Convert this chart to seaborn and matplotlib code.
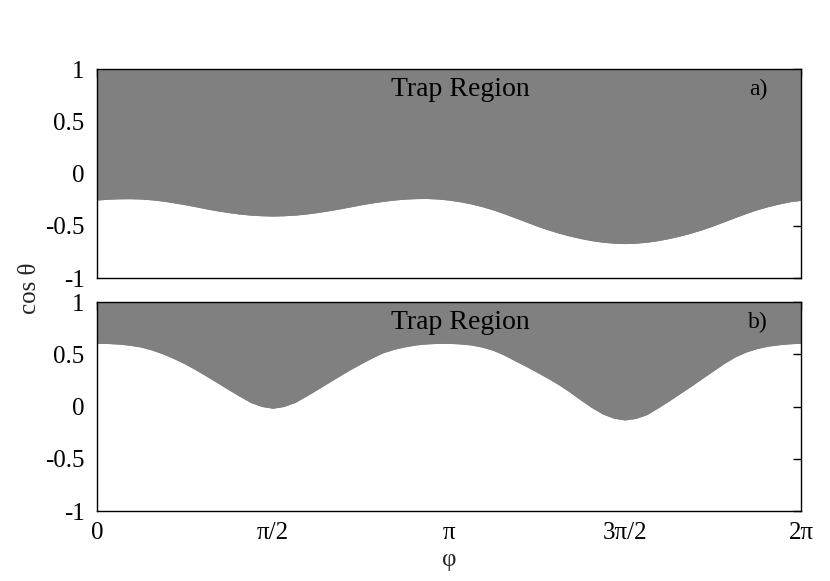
import numpy as np
import pandas as pd
import matplotlib
matplotlib.use("Agg")
import matplotlib.pyplot as plt
import seaborn as sns

# phi positions in units of pi/32 (0 .. 64)
phi_steps = list(range(65))

# panel a) lower boundary of the trap region (cos theta)
boundary_a = [-0.252, -0.244, -0.240, -0.239, -0.242, -0.250, -0.262, -0.278, -0.296,
              -0.316, -0.337, -0.356, -0.372, -0.386, -0.396, -0.402, -0.405, -0.402,
              -0.396, -0.386, -0.372, -0.356, -0.338, -0.318, -0.298, -0.280, -0.265,
              -0.252, -0.243, -0.238, -0.237, -0.242, -0.252, -0.268, -0.288, -0.314,
              -0.345, -0.381, -0.420, -0.460, -0.500, -0.536, -0.568, -0.596, -0.620,
              -0.640, -0.655, -0.664, -0.668, -0.664, -0.655, -0.640, -0.620, -0.596,
              -0.568, -0.536, -0.500, -0.460, -0.420, -0.381, -0.345, -0.315, -0.290,
              -0.268, -0.255]

# panel b) lower boundary of the trap region (cos theta)
boundary_b = [0.606, 0.604, 0.598, 0.587, 0.570, 0.542, 0.505, 0.460, 0.410, 0.352,
              0.290, 0.226, 0.162, 0.099, 0.040, 0.002, -0.015, 0.002, 0.040, 0.099,
              0.162, 0.226, 0.290, 0.352, 0.410, 0.465, 0.515, 0.548, 0.572, 0.590,
              0.600, 0.605, 0.605, 0.600, 0.590, 0.570, 0.540, 0.495, 0.440, 0.387,
              0.330, 0.272, 0.210, 0.140, 0.064, -0.008, -0.070, -0.110, -0.127, -0.112,
              -0.075, -0.012, 0.055, 0.125, 0.195, 0.268, 0.340, 0.412, 0.475, 0.522,
              0.555, 0.578, 0.592, 0.601, 0.606]

x_tick_labels = ["0", "π/2", "π", "3π/2", "2π"]
y_tick_values = [-1, -0.5, 0, 0.5, 1]
y_tick_labels = ["-1", "-0.5", "0", "0.5", "1"]
panel_tags = ["a)", "b)"]
region_text = "Trap Region"

sns.set_style("white")
plt.rcParams['font.family'] = ['Liberation Serif', 'DejaVu Serif']

FILL = '#808080'
fs = 18

fig = plt.figure(figsize=(8.3, 5.81), dpi=100)
ax_a = fig.add_axes([0.1169, 0.521, 0.8482, 0.3602])
ax_b = fig.add_axes([0.1169, 0.120, 0.8482, 0.3602])

phi = np.array(phi_steps) * np.pi / 32.0

for ax, vals, tag, show_x in [(ax_a, boundary_a, panel_tags[0], False),
                              (ax_b, boundary_b, panel_tags[1], True)]:
    df = pd.DataFrame({'phi': phi, 'cos': vals})
    sns.lineplot(data=df, x='phi', y='cos', ax=ax, color=FILL, lw=0.8,
                 sort=False, estimator=None)
    ax.fill_between(df['phi'], df['cos'], 1, color=FILL, lw=0)
    ax.set_xlim(0, 2 * np.pi)
    ax.set_ylim(-1, 1)
    ax.set_xlabel("")
    ax.set_ylabel("")
    ax.set_xticks([0, np.pi / 2, np.pi, 3 * np.pi / 2, 2 * np.pi])
    if show_x:
        ax.set_xticklabels(x_tick_labels, fontsize=fs)
    else:
        ax.set_xticklabels([])
    ax.set_yticks(y_tick_values)
    ax.set_yticklabels(y_tick_labels, fontsize=fs)
    ax.tick_params(direction='in', top=True, right=True, length=6, width=1,
                   color='black', labelcolor='black')
    ax.tick_params(axis='y', pad=9)
    ax.tick_params(axis='x', pad=8)
    for s in ax.spines.values():
        s.set_color('black')
        s.set_linewidth(1.0)
        s.set_zorder(5)
    ax.text(0.516, 0.90, region_text, transform=ax.transAxes, ha='center',
            va='center', fontsize=fs + 2, color='black')
    ax.text(0.939, 0.90, tag, transform=ax.transAxes, ha='center', va='center',
            fontsize=fs - 1, color='black')

fig.text(0.036, 0.504, "cos θ", rotation=90, ha='center', va='center', fontsize=fs)
fig.text(0.541, 0.036, "φ", ha='center', va='center', fontsize=fs)

fig.savefig("out.png", dpi=100)
